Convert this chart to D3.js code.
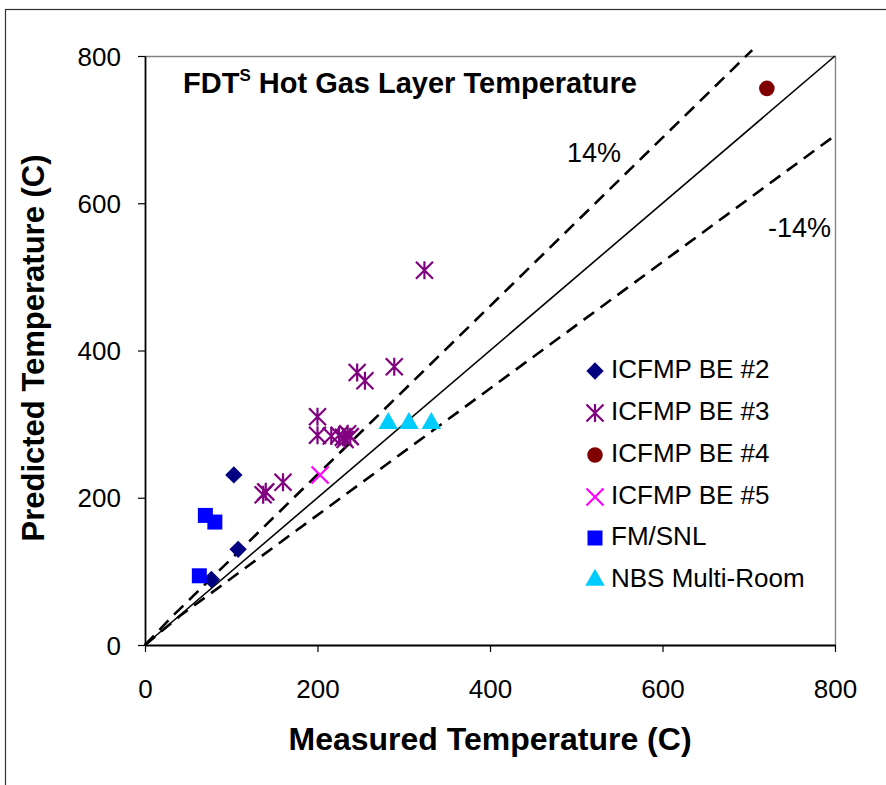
<!DOCTYPE html>
<html>
<head>
<meta charset="utf-8">
<script src="https://cdn.jsdelivr.net/npm/d3@7/dist/d3.min.js"></script>
<style>
  html, body { margin: 0; padding: 0; background: #fff; }
  svg { display: block; font-family: "Liberation Sans", Arial, sans-serif; }
</style>
</head>
<body>
<svg id="chart" width="886" height="785"></svg>
<script>
// ---------- data ----------
const be2Measured = [103, 108, 77];
const be2Predicted = [231, 130, 89];

const be3Measured = [246, 255, 289, 200, 200, 216, 225, 230, 235, 238, 232, 140, 137, 160, 324];
const be3Predicted = [370, 359, 378, 310, 285, 284, 285, 282, 287, 283, 279, 208, 204, 221, 509];

const be4Measured = [721];
const be4Predicted = [756];

const be5Measured = [203];
const be5Predicted = [231];

const fmMeasured = [70, 81, 63];
const fmPredicted = [176, 167, 94];

const nbsMeasured = [282, 306, 332];
const nbsPredicted = [301, 301, 301];

const diagX = [0, 800];
const diagY = [0, 800];
const upperX = [0, 30, 704];
const upperY = [0, 37, 808];
const lowerX = [0, 40, 800];
const lowerY = [0, 39, 692];

const tickValues = [0, 200, 400, 600, 800];
const seriesNames = ["ICFMP BE #2", "ICFMP BE #3", "ICFMP BE #4", "ICFMP BE #5", "FM/SNL", "NBS Multi-Room"];

(function () {
// ---------- setup ----------
const svg = d3.select("#chart");
const font = "'Liberation Sans', Arial, sans-serif";
const pLeft = 145, pRight = 835, pTop = 56, pBottom = 645;
const x = d3.scaleLinear().domain([0, 800]).range([pLeft, pRight]);
const y = d3.scaleLinear().domain([0, 800]).range([pBottom, pTop]);

// outer chart border
svg.append("rect").attr("x", 5.5).attr("y", 9.5).attr("width", 890).attr("height", 800)
  .attr("fill", "none").attr("stroke", "#333").attr("stroke-width", 1.2);

// plot frame (top & right gray)
svg.append("path")
  .attr("d", `M${pLeft},${pTop + 0.5}H${pRight + 0.5}V${pBottom}`)
  .attr("fill", "none").attr("stroke", "#808080").attr("stroke-width", 1.3);

// ---------- axes ----------
const xAxis = svg.append("g").attr("transform", `translate(0,${pBottom})`)
  .call(d3.axisBottom(x).tickValues(tickValues).tickSize(7).tickSizeOuter(0).tickFormat(d3.format("d")));
xAxis.select(".domain").attr("stroke", "#000").attr("stroke-width", 1.8);
xAxis.selectAll(".tick line").attr("stroke", "#000").attr("stroke-width", 1.2);
xAxis.selectAll("text").attr("y", 53).attr("dy", null)
  .attr("font-size", 26).attr("font-family", font).attr("fill", "#000");

const yAxis = svg.append("g").attr("transform", `translate(${pLeft},0)`)
  .call(d3.axisLeft(y).tickValues(tickValues).tickSize(7).tickSizeOuter(0).tickFormat(d3.format("d")));
yAxis.select(".domain").attr("stroke", "#000").attr("stroke-width", 1.8);
yAxis.selectAll(".tick line").attr("stroke", "#000").attr("stroke-width", 1.2);
yAxis.selectAll("text").attr("x", -24).attr("dy", "0.35em")
  .attr("font-size", 26).attr("font-family", font).attr("fill", "#000");

// axis titles
svg.append("text").attr("x", 490).attr("y", 750).attr("text-anchor", "middle")
  .attr("font-size", 32).attr("font-weight", "bold").attr("font-family", font)
  .text("Measured Temperature (C)");
svg.append("text").attr("transform", "translate(44,348) rotate(-90)").attr("text-anchor", "middle")
  .attr("font-size", 31).attr("font-weight", "bold").attr("font-family", font)
  .text("Predicted Temperature (C)");

// chart title
const title = svg.append("text").attr("x", 183).attr("y", 93)
  .attr("font-size", 29).attr("font-weight", "bold").attr("font-family", font);
title.append("tspan").text("FDT");
title.append("tspan").attr("font-size", 17).attr("dy", -12).text("S");
title.append("tspan").attr("dy", 12).text(" Hot Gas Layer Temperature");

// ---------- reference lines ----------
const line = d3.line().x(d => x(d[0])).y(d => y(d[1]));
svg.append("path").datum(d3.zip(diagX, diagY)).attr("d", line)
  .attr("fill", "none").attr("stroke", "#000").attr("stroke-width", 1.6);
svg.append("path").datum(d3.zip(upperX, upperY)).attr("d", line)
  .attr("fill", "none").attr("stroke", "#000").attr("stroke-width", 2.6).attr("stroke-dasharray", "13,8");
svg.append("path").datum(d3.zip(lowerX, lowerY)).attr("d", line)
  .attr("fill", "none").attr("stroke", "#000").attr("stroke-width", 2.6).attr("stroke-dasharray", "13,8");

svg.append("text").attr("x", 594).attr("y", 162).attr("text-anchor", "middle")
  .attr("font-size", 27).attr("font-family", font).text("14%");
svg.append("text").attr("x", 768).attr("y", 237)
  .attr("font-size", 27).attr("font-family", font).text("-14%");

// ---------- markers ----------
const diamondPath = d3.symbol().type(d3.symbolSquare).size(150)();
const squarePath = d3.symbol().type(d3.symbolSquare).size(225)();
const circlePath = d3.symbol().type(d3.symbolCircle).size(190)();
const trianglePath = d3.symbol().type(d3.symbolTriangle).size(165)();
const asteriskPath = "M0,-9V9M-8.5,-8.5L8.5,8.5M-8.5,8.5L8.5,-8.5";
const crossPath = "M-8.5,-8.5L8.5,8.5M-8.5,8.5L8.5,-8.5";

const markerDefs = [
  { name: seriesNames[0], xs: be2Measured, ys: be2Predicted, draw: g => g.append("path").attr("d", diamondPath).attr("transform", "rotate(45)").attr("fill", "#000080") },
  { name: seriesNames[1], xs: be3Measured, ys: be3Predicted, draw: g => g.append("path").attr("d", asteriskPath).attr("fill", "none").attr("stroke", "#800080").attr("stroke-width", 2.2) },
  { name: seriesNames[2], xs: be4Measured, ys: be4Predicted, draw: g => g.append("path").attr("d", circlePath).attr("fill", "#800000") },
  { name: seriesNames[3], xs: be5Measured, ys: be5Predicted, draw: g => g.append("path").attr("d", crossPath).attr("fill", "none").attr("stroke", "#FF00FF").attr("stroke-width", 2.2) },
  { name: seriesNames[4], xs: fmMeasured, ys: fmPredicted, draw: g => g.append("path").attr("d", squarePath).attr("fill", "#0000FF") },
  { name: seriesNames[5], xs: nbsMeasured, ys: nbsPredicted, draw: g => g.append("path").attr("d", trianglePath).attr("fill", "#00CCFF") }
];

markerDefs.forEach(s => {
  const g = svg.append("g");
  d3.zip(s.xs, s.ys).forEach(p => {
    const m = g.append("g").attr("transform", `translate(${x(p[0])},${y(p[1])})`);
    s.draw(m);
  });
});

// ---------- legend ----------
const legendRowBase = [378, 420, 462, 504, 545, 587];
markerDefs.forEach((s, i) => {
  const g = svg.append("g");
  const m = g.append("g").attr("transform", `translate(595,${legendRowBase[i] - 7})`);
  s.draw(m);
  g.append("text").attr("x", 611).attr("y", legendRowBase[i])
    .attr("font-size", 26).attr("font-family", font).text(s.name);
});
})();
</script>
</body>
</html>
